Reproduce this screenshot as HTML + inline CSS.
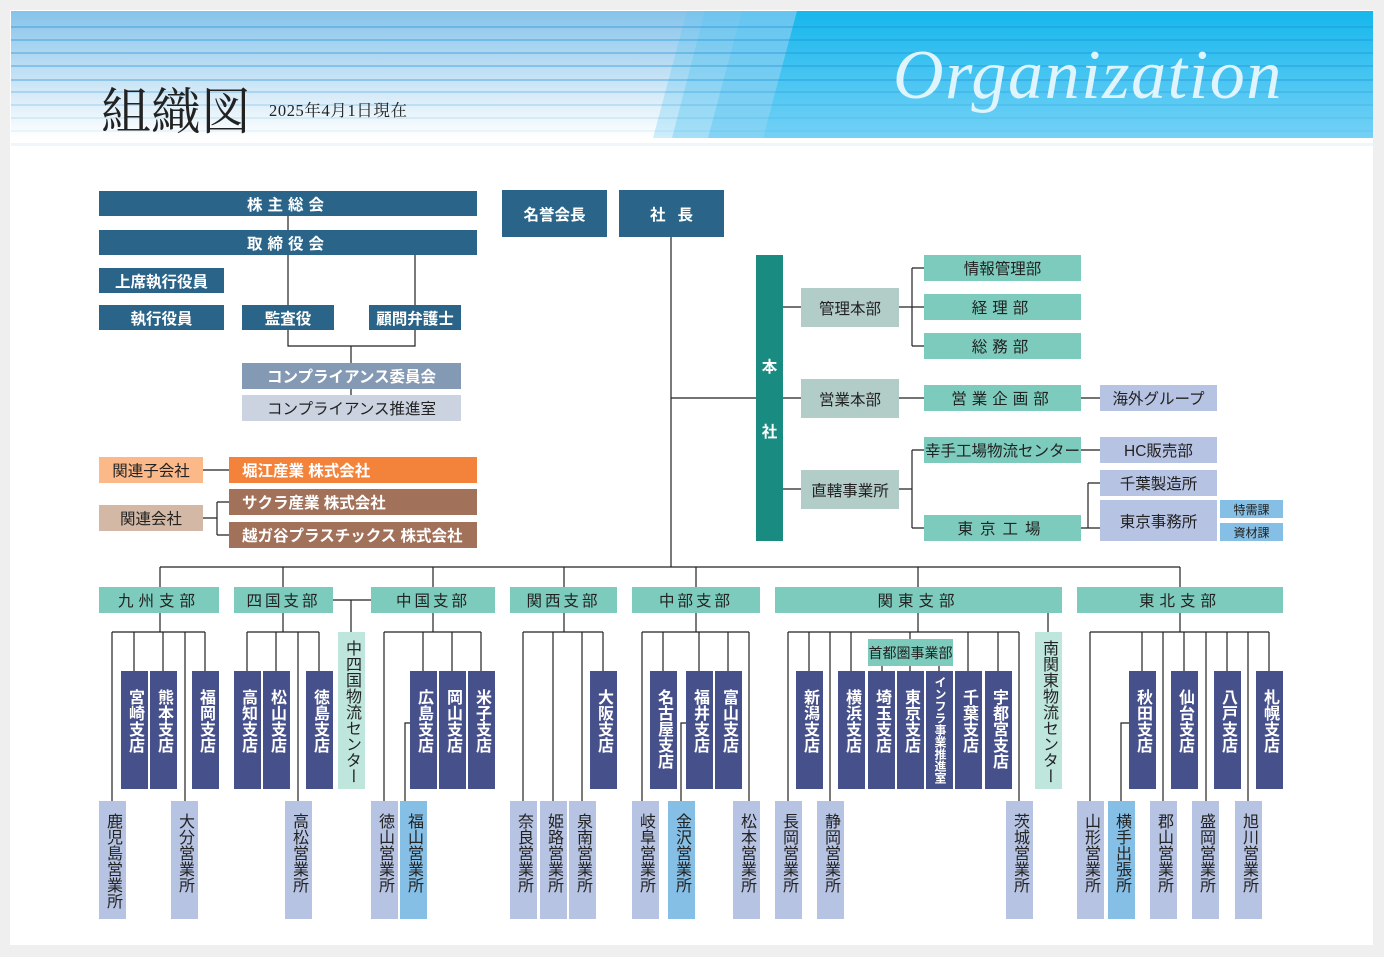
<!DOCTYPE html>
<html><head><meta charset="utf-8">
<style>
*{margin:0;padding:0;box-sizing:border-box}
body{width:1384px;height:957px;background:#efefef;position:relative;overflow:hidden;font-family:"Liberation Sans","Noto Sans CJK JP",sans-serif}
#panel{position:absolute;left:10px;top:10px;width:1363px;height:935px;background:#fff}
.b{position:absolute;display:flex;align-items:center;justify-content:center;font-size:15.5px;color:#222;white-space:nowrap}
.w{color:#fff;font-weight:bold}
.n{background:#2a6589;color:#fff;font-weight:bold}
.t{background:#7ccbbc}
.g{background:#b2ccc8}
.p{background:#b7c3e2}
.v{position:absolute;writing-mode:vertical-rl;line-height:27px;width:27px;font-size:16px;padding-top:18px;white-space:nowrap;overflow:hidden}
.s{background:#46508a;color:#fff;font-weight:bold;top:671px;height:118px}
.e{background:#b7c3e2;color:#222;top:801px;height:118px;padding-top:12px}
.h{background:#86bfe5}
.c{background:#bfe6dc;color:#222;top:632px;height:157px;padding-top:8px}
svg{position:absolute;left:0;top:0}
</style></head><body>
<div id="panel"></div>
<svg width="1384" height="160">
<defs>
<linearGradient id="lg" x1="0" y1="0" x2="0" y2="1"><stop offset="0" stop-color="#86c3ea"/><stop offset="1" stop-color="#ffffff"/></linearGradient>
<linearGradient id="rg" x1="0" y1="0" x2="0" y2="1"><stop offset="0" stop-color="#16b7ec"/><stop offset="1" stop-color="#74d1f6"/></linearGradient>
</defs>
<rect x="11" y="11" width="1362" height="127" fill="url(#lg)"/>
<polygon points="687,11 1373,11 1373,138 653,138" fill="#5cc6f2" opacity="0.3"/>
<polygon points="705,11 1373,11 1373,138 672,138" fill="#5cc6f2" opacity="0.35"/>
<polygon points="742,11 1373,11 1373,138 708,138" fill="#5cc6f2" opacity="0.45"/>
<polygon points="797,11 1373,11 1373,138 763,138" fill="url(#rg)"/>
<g stroke="#1d8fd6" stroke-width="1.5" opacity="0.45">
<line x1="11" y1="27" x2="1373" y2="27"/><line x1="11" y1="40" x2="1373" y2="40"/><line x1="11" y1="53" x2="1373" y2="53"/><line x1="11" y1="66" x2="1373" y2="66"/><line x1="11" y1="80" x2="1373" y2="80"/><line x1="11" y1="92" x2="1373" y2="92" opacity="0.7"/><line x1="11" y1="105" x2="1373" y2="105" opacity="0.5"/><line x1="11" y1="118" x2="1373" y2="118" opacity="0.35"/><line x1="11" y1="131" x2="1373" y2="131" opacity="0.2"/>
</g>
<rect x="11" y="143" width="1362" height="3" fill="#eef6fb"/>
</svg>
<div style="position:absolute;left:101px;top:82px;font-family:'Liberation Serif','Noto Serif CJK SC',serif;font-size:50px;line-height:60px;color:#222">組織図</div>
<div style="position:absolute;left:269px;top:101px;font-family:'Liberation Serif','Noto Serif CJK SC',serif;font-size:16.5px;line-height:20px;color:#222;letter-spacing:0.6px">2025年4月1日現在</div>
<div style="position:absolute;left:893px;top:34px;font-family:'Liberation Serif',serif;font-style:italic;font-size:70px;line-height:84px;color:#dff4fc;letter-spacing:1.6px">Organization</div>

<svg width="1384" height="957" style="stroke:#222;stroke-width:1.2;fill:none">
<path d="M288 216V230M288 255V305M415 255V305M288 330V346H415V330M351 346V363M351 389V395"/>
<path d="M203 470H229M203 518H217M217 502V535M217 502H229M217 535H229"/>
<path d="M671 236V567M671 398H756M783 307H801M783 398H801M783 489H801"/>
<path d="M899 307H912M912 268V346M912 268H924M912 307H924M912 346H924M899 398H924M1081 398H1100"/>
<path d="M899 489H912M912 450V528M912 450H924M912 528H924M1081 450H1100M1081 528H1088M1088 483V528M1088 483H1100M1088 528H1100"/>
<path d="M160 567H1180M160 567V587M283 567V587M433 567V587M564 567V587M696 567V587M918 567V587M1180 567V587"/>
<path d="M333 600H371M351 600V632"/>
<path d="M160 613V632M112 632H205M112 632V801M134 632V671M163 632V671M185 632V801M205 632V671"/>
<path d="M283 613V632M247 632H319M247 632V671M276 632V671M298 632V801M319 632V671"/>
<path d="M433 613V632M384 632H481M384 632V801M423 632V671M452 632V671M481 632V671M405 801V723H410"/>
<path d="M564 613V632M523 632H603M523 632V801M553 632V801M582 632V801M603 632V671"/>
<path d="M696 613V632M642 632H749M642 632V801M663 632V671M699 632V671M728 632V671M749 632V801M681 801V723H686"/>
<path d="M918 613V632M788 632H1019M788 632V801M809 632V671M830 632V801M851 632V671M910 632V639M968 632V671M998 632V671M1019 632V801M882 666V671M910 666V671M939 666V671M1048 613V632"/>
<path d="M1180 613V632M1090 632H1269M1090 632V801M1142 632V671M1163 632V801M1184 632V671M1206 632V801M1227 632V671M1248 632V801M1269 632V671M1121 801V723H1129"/>
</svg>

<div class="b n" style="left:99px;top:191px;width:378px;height:25px;letter-spacing:5px">株主総会</div>
<div class="b n" style="left:99px;top:230px;width:378px;height:25px;letter-spacing:5px">取締役会</div>
<div class="b n" style="left:99px;top:268px;width:125px;height:25px">上席執行役員</div>
<div class="b n" style="left:99px;top:305px;width:125px;height:25px">執行役員</div>
<div class="b n" style="left:242px;top:305px;width:92px;height:25px">監査役</div>
<div class="b n" style="left:369px;top:305px;width:92px;height:25px">顧問弁護士</div>
<div class="b w" style="left:242px;top:363px;width:219px;height:26px;background:#8499b3">コンプライアンス委員会</div>
<div class="b" style="left:242px;top:395px;width:219px;height:26px;background:#ccd3e0">コンプライアンス推進室</div>
<div class="b" style="left:99px;top:457px;width:104px;height:26px;background:#fbb98a">関連子会社</div>
<div class="b w" style="left:229px;top:457px;width:248px;height:26px;background:#f3833a;justify-content:flex-start;padding-left:13px">堀江産業 株式会社</div>
<div class="b" style="left:99px;top:505px;width:104px;height:26px;background:#d3b8a6">関連会社</div>
<div class="b w" style="left:229px;top:489px;width:248px;height:26px;background:#a27159;justify-content:flex-start;padding-left:13px">サクラ産業 株式会社</div>
<div class="b w" style="left:229px;top:522px;width:248px;height:26px;background:#a27159;justify-content:flex-start;padding-left:13px">越ガ谷プラスチックス 株式会社</div>

<div class="b n" style="left:502px;top:190px;width:105px;height:47px">名誉会長</div>
<div class="b n" style="left:619px;top:190px;width:105px;height:47px;letter-spacing:12px;padding-left:12px">社長</div>

<div class="b w" style="left:756px;top:255px;width:27px;height:286px;background:#1a8b80"></div>
<div class="b w" style="left:756px;top:355px;width:27px;height:22px">本</div>
<div class="b w" style="left:756px;top:420px;width:27px;height:22px">社</div>
<div class="b g" style="left:801px;top:288px;width:98px;height:39px">管理本部</div>
<div class="b g" style="left:801px;top:379px;width:98px;height:39px">営業本部</div>
<div class="b g" style="left:801px;top:470px;width:98px;height:39px">直轄事業所</div>
<div class="b t" style="left:924px;top:255px;width:157px;height:26px">情報管理部</div>
<div class="b t" style="left:924px;top:294px;width:157px;height:26px;letter-spacing:5px">経理部</div>
<div class="b t" style="left:924px;top:333px;width:157px;height:26px;letter-spacing:5px">総務部</div>
<div class="b t" style="left:924px;top:385px;width:157px;height:26px;letter-spacing:5px">営業企画部</div>
<div class="b t" style="left:924px;top:437px;width:157px;height:26px">幸手工場物流センター</div>
<div class="b t" style="left:924px;top:515px;width:157px;height:26px;letter-spacing:7px">東京工場</div>
<div class="b p" style="left:1100px;top:385px;width:117px;height:26px">海外グループ</div>
<div class="b p" style="left:1100px;top:437px;width:117px;height:26px">HC販売部</div>
<div class="b p" style="left:1100px;top:470px;width:117px;height:26px">千葉製造所</div>
<div class="b p" style="left:1100px;top:500px;width:117px;height:41px">東京事務所</div>
<div class="b" style="left:1220px;top:500px;width:63px;height:18px;background:#86bfe5;font-size:12px">特需課</div>
<div class="b" style="left:1220px;top:523px;width:63px;height:18px;background:#86bfe5;font-size:12px">資材課</div>

<div class="b t" style="left:99px;top:587px;width:120px;height:26px;letter-spacing:5px">九州支部</div>
<div class="b t" style="left:234px;top:587px;width:99px;height:26px;letter-spacing:3px">四国支部</div>
<div class="b t" style="left:371px;top:587px;width:124px;height:26px;letter-spacing:3px">中国支部</div>
<div class="b t" style="left:510px;top:587px;width:107px;height:26px;letter-spacing:3px">関西支部</div>
<div class="b t" style="left:632px;top:587px;width:128px;height:26px;letter-spacing:3px">中部支部</div>
<div class="b t" style="left:775px;top:587px;width:287px;height:26px;letter-spacing:5px">関東支部</div>
<div class="b t" style="left:1077px;top:587px;width:206px;height:26px;letter-spacing:5px">東北支部</div>
<div class="b t" style="left:868px;top:639px;width:85px;height:27px;font-size:14px">首都圏事業部</div>

<div class="v s" style="left:121px">宮崎支店</div>
<div class="v s" style="left:150px">熊本支店</div>
<div class="v s" style="left:192px">福岡支店</div>
<div class="v e" style="left:99px">鹿児島営業所</div>
<div class="v e" style="left:171px">大分営業所</div>
<div class="v s" style="left:234px">高知支店</div>
<div class="v s" style="left:263px">松山支店</div>
<div class="v s" style="left:306px">徳島支店</div>
<div class="v e" style="left:285px">高松営業所</div>
<div class="v c" style="left:338px">中四国物流センター</div>
<div class="v s" style="left:410px">広島支店</div>
<div class="v s" style="left:439px">岡山支店</div>
<div class="v s" style="left:468px">米子支店</div>
<div class="v e" style="left:371px">徳山営業所</div>
<div class="v e h" style="left:400px">福山営業所</div>
<div class="v s" style="left:590px">大阪支店</div>
<div class="v e" style="left:510px">奈良営業所</div>
<div class="v e" style="left:540px">姫路営業所</div>
<div class="v e" style="left:569px">泉南営業所</div>
<div class="v s" style="left:650px">名古屋支店</div>
<div class="v s" style="left:686px">福井支店</div>
<div class="v s" style="left:715px">富山支店</div>
<div class="v e" style="left:632px">岐阜営業所</div>
<div class="v e h" style="left:668px">金沢営業所</div>
<div class="v e" style="left:733px">松本営業所</div>
<div class="v s" style="left:796px">新潟支店</div>
<div class="v s" style="left:838px">横浜支店</div>
<div class="v s" style="left:868px">埼玉支店</div>
<div class="v s" style="left:897px">東京支店</div>
<div class="v s" style="left:926px;font-size:12px;padding-top:5px">インフラ事業推進室</div>
<div class="v s" style="left:955px">千葉支店</div>
<div class="v s" style="left:985px">宇都宮支店</div>
<div class="v e" style="left:775px">長岡営業所</div>
<div class="v e" style="left:817px">静岡営業所</div>
<div class="v e" style="left:1006px">茨城営業所</div>
<div class="v c" style="left:1035px">南関東物流センター</div>
<div class="v s" style="left:1129px">秋田支店</div>
<div class="v s" style="left:1171px">仙台支店</div>
<div class="v s" style="left:1214px">八戸支店</div>
<div class="v s" style="left:1256px">札幌支店</div>
<div class="v e" style="left:1077px">山形営業所</div>
<div class="v e h" style="left:1108px">横手出張所</div>
<div class="v e" style="left:1150px">郡山営業所</div>
<div class="v e" style="left:1192px">盛岡営業所</div>
<div class="v e" style="left:1235px">旭川営業所</div>
</body></html>
